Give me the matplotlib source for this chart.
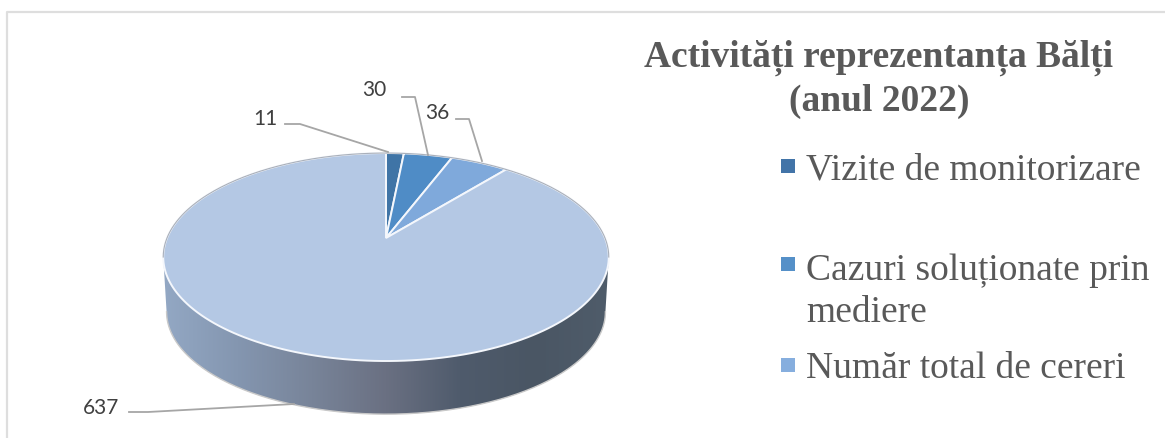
import numpy as np
import matplotlib
matplotlib.use("Agg")
import matplotlib.pyplot as plt
from matplotlib.patches import Polygon
from matplotlib.colors import LinearSegmentedColormap

categories = ["Vizite de monitorizare", "Cazuri soluționate prin\nmediere", "Număr total de cereri"]
values = [11, 30, 36, 637]
value_labels = ["11", "30", "36", "637"]
slice_colors = ["#3f74a6", "#4f8cc6", "#7fa9db", "#b4c8e4"]
legend_colors = ["#4274a8", "#5590c8", "#86aede"]
title = "Activități reprezentanța Bălți\n(anul 2022)"

W, H = 1165, 439
fig = plt.figure(figsize=(W / 100, H / 100), dpi=100)
ax = fig.add_axes([0, 0, 1, 1])
ax.set_xlim(0, W)
ax.set_ylim(H, 0)
ax.axis("off")

# pie is tilted in perspective so the apex sits above the middle of the ellipse
CX, CY = 386, 239
A, B, K = 219, 100.5, 0.183
DEPTH = 55


def project(theta, dy=0, scale=1.0):
    u = np.sin(theta)
    v = np.cos(theta)
    w = 1 + K * v
    return CX + scale * A * u / w, CY + dy - scale * B * v / w


def arc_xy(a0, a1, **kw):
    t = np.linspace(a0, a1, 200)
    x, y = project(t, **kw)
    return np.column_stack([x, y])


edges = np.cumsum([0] + values) / sum(values) * 2 * np.pi

# side wall, gradient image clipped to the visible front part
t_right = np.arccos(-K)
t_left = 2 * np.pi - t_right
wall = np.vstack([arc_xy(t_right, t_left), arc_xy(t_left, t_right, dy=DEPTH, scale=0.985)])
cmap = LinearSegmentedColormap.from_list("wall", ["#93a8c4", "#8496b0", "#788499", "#6a7082", "#4f5b6c", "#4a5664", "#4f5c6a"])
img = ax.imshow(np.linspace(0, 1, 256).reshape(1, -1), cmap=cmap, aspect="auto",
                extent=[163, 609, 420, 250], zorder=1)
ax.set_xlim(0, W)
ax.set_ylim(H, 0)
clip = Polygon(wall, closed=True, transform=ax.transData, fc="none", ec="none")
ax.add_patch(clip)
img.set_clip_path(clip)
ax.plot(*arc_xy(t_right, t_left, dy=DEPTH, scale=0.985).T, color="#c9c9c9", lw=1.0, zorder=2)

# top face
for i in range(len(values)):
    pts = np.vstack([[CX, CY], arc_xy(edges[i], edges[i + 1])])
    ax.add_patch(Polygon(pts, closed=True, fc=slice_colors[i], ec="#f4f7fc", lw=1.4, zorder=3))

# grey rim only along the back of the pie
ax.plot(*arc_xy(-t_right, t_right).T, color="#aab0ba", lw=0.8, zorder=4)

# leader lines and value labels
leader_x = [[285, 300, 388], [402, 415, 428], [456, 469, 482], [129, 148, 294]]
leader_y = [[125, 125, 153], [98, 98, 156], [120, 120, 162], [413, 413, 405]]
label_x = [278, 386, 449, 119]
label_y = [119, 90, 113, 408]
for i in range(len(values)):
    ax.plot(leader_x[i], leader_y[i], color="#a6a6a6", lw=1.3, zorder=5)
    ax.text(label_x[i], label_y[i], value_labels[i], ha="right", va="center",
            fontsize=15, family="Lato", color="#404040")

# chart frame, only top and left show in the crop
ax.plot([7, 7, W], [H, 13, 13], color="#dedede", lw=1.6, zorder=0)

# title and legend
ax.text(879, 79, title, ha="center", va="center", fontsize=27, weight="bold",
        family="Liberation Serif", color="#595959", linespacing=1.3)
legend_y = [167, 265, 366]
text_y = [170, 292, 369]
for i, name in enumerate(categories):
    ax.scatter([788], [legend_y[i]], marker="s", s=95, color=legend_colors[i], lw=0, zorder=5)
    ax.text(806, text_y[i], name, ha="left", va="center", fontsize=27, family="Liberation Serif",
            color="#595959", linespacing=1.28)

fig.savefig("out.png", dpi=100, facecolor="white")
